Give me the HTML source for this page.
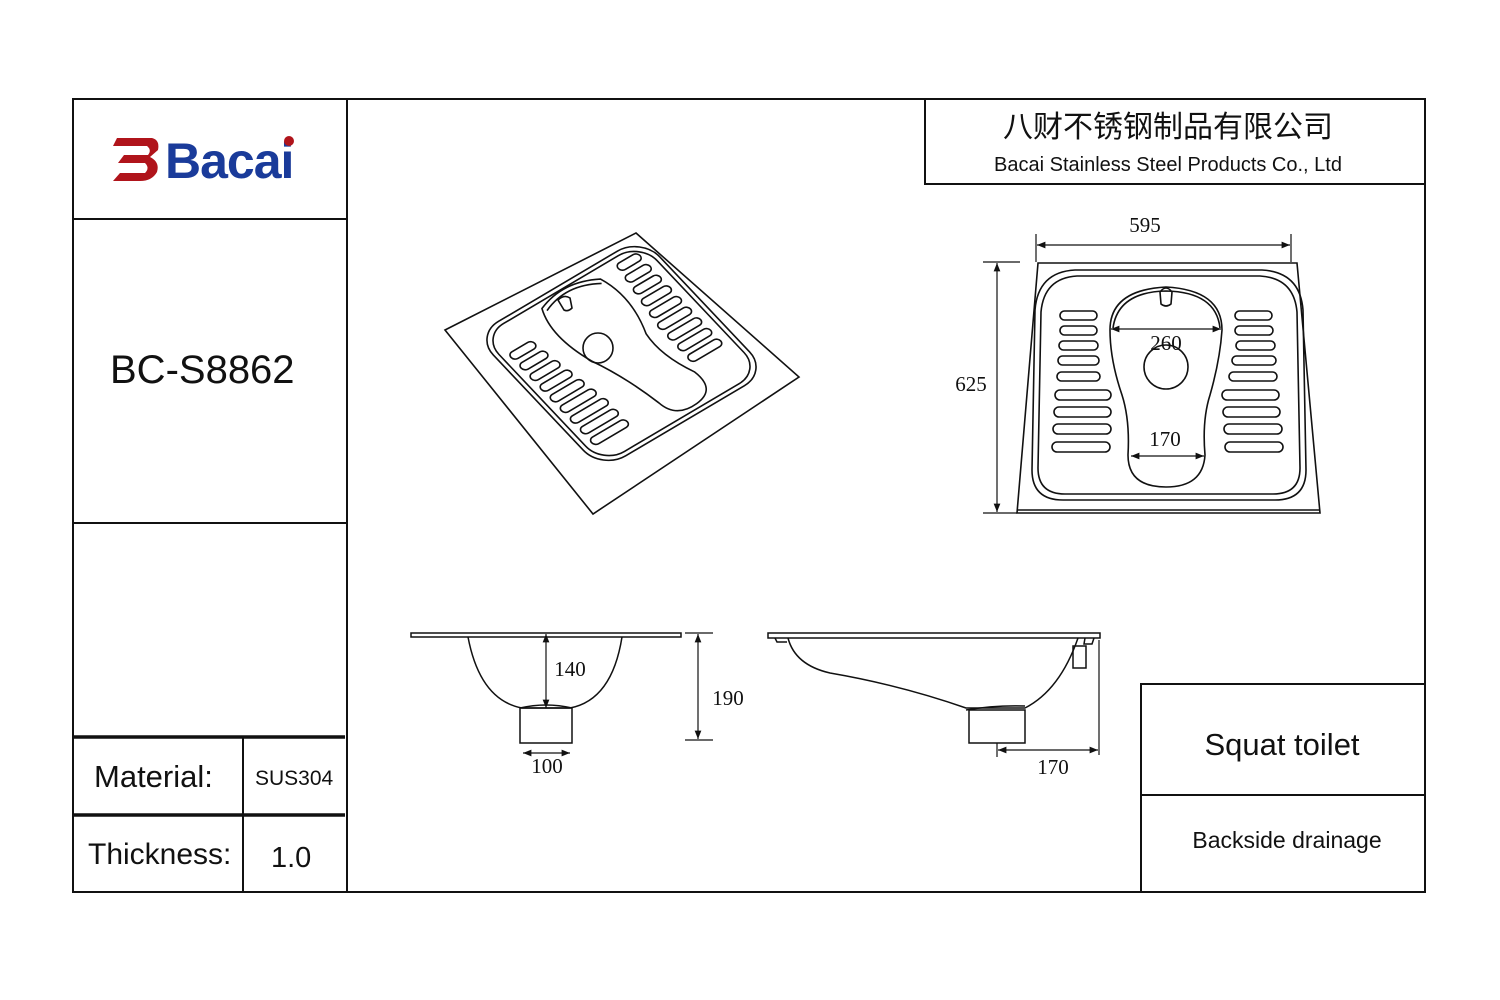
<!DOCTYPE html>
<html><head><meta charset="utf-8"><style>
html,body{margin:0;padding:0;background:#fff;}
svg{display:block;}
.s{font-family:"Liberation Sans","Noto Sans CJK SC",sans-serif;fill:#111;}
.d{font-family:"Liberation Serif",serif;fill:#111;font-size:21px;}
</style></head><body>
<svg width="1500" height="1000" viewBox="0 0 1500 1000" xmlns="http://www.w3.org/2000/svg">
<defs>
<marker id="a" viewBox="0 0 10 10" refX="10" refY="5" markerWidth="9" markerHeight="7" orient="auto-start-reverse"><path d="M0,1 L10,5 L0,9 Z" fill="#111"/></marker>
</defs>
<g fill="none" stroke="#111" stroke-width="2">
<rect x="73" y="99" width="1352" height="793"/>
<line x1="347" y1="99" x2="347" y2="892"/>
<line x1="73" y1="219" x2="347" y2="219"/>
<line x1="73" y1="523" x2="347" y2="523"/>
<line x1="73" y1="737" x2="345" y2="737" stroke-width="3.5"/>
<line x1="73" y1="815" x2="345" y2="815" stroke-width="3.5"/>
<line x1="243" y1="737" x2="243" y2="892"/>
<polyline points="925,99 925,184 1425,184"/>
<rect x="1141" y="684" width="284" height="208"/>
<line x1="1141" y1="795" x2="1425" y2="795"/>
</g>
<!-- logo -->
<g>
<path d="M117,138 L152,138 Q160,140 158,150 L150,157 Q160,162 157,172 Q152,181 140,181 L113,181 L120,173 L145,173 Q150,168 145,163 L118,163 L124,155 L148,155 Q152,150 147,146 L113,146 Z" fill="#b0141b"/>
<text x="165" y="178" font-family="Liberation Sans,sans-serif" font-weight="bold" font-size="50" fill="#1a3b9a" letter-spacing="-1">Bacai</text>
<circle cx="289" cy="141" r="5" fill="#b0141b"/>
</g>
<text x="110" y="383" class="s" font-size="40">BC-S8862</text>
<text x="94" y="787" class="s" font-size="31">Material:</text>
<text x="255" y="785" class="s" font-size="21">SUS304</text>
<text x="88" y="864" class="s" font-size="30">Thickness:</text>
<text x="271" y="867" class="s" font-size="29">1.0</text>
<text x="1168" y="137" class="s" font-size="30" text-anchor="middle">八财不锈钢制品有限公司</text>
<text x="1168" y="171" class="s" font-size="20" text-anchor="middle">Bacai Stainless Steel Products Co., Ltd</text>
<text x="1282" y="755" class="s" font-size="31" text-anchor="middle">Squat toilet</text>
<text x="1287" y="848" class="s" font-size="23" text-anchor="middle">Backside  drainage</text>

<!-- isometric view -->
<g fill="none" stroke="#111" stroke-width="1.6">
<polygon points="445,330 636,233 799,377 593,514"/>
<g transform="matrix(1.98,-1.17,1.55,1.64,445,330)">
<rect x="8" y="9" width="84" height="82" rx="12" vector-effect="non-scaling-stroke"/>
<rect x="10" y="11" width="80" height="78" rx="11" vector-effect="non-scaling-stroke"/>
<path d="M38,14 Q53,8 66,16 Q71,30 64,48 Q62,60 68,74 Q70,86 59,87 Q48,88 47,78 Q44,60 38,46 Q32,27 38,14 Z" vector-effect="non-scaling-stroke"/>
<path d="M39,16 Q53,10 65,18" vector-effect="non-scaling-stroke"/>
<rect x="13" y="24" width="12" height="4" rx="2" vector-effect="non-scaling-stroke"/>
<rect x="13" y="30.5" width="13" height="4" rx="2" vector-effect="non-scaling-stroke"/>
<rect x="13" y="37" width="14" height="4" rx="2" vector-effect="non-scaling-stroke"/>
<rect x="13" y="43.5" width="15" height="4" rx="2" vector-effect="non-scaling-stroke"/>
<rect x="13" y="50" width="16" height="4" rx="2" vector-effect="non-scaling-stroke"/>
<rect x="13" y="56.5" width="17" height="4" rx="2" vector-effect="non-scaling-stroke"/>
<rect x="13" y="63" width="18" height="4" rx="2" vector-effect="non-scaling-stroke"/>
<rect x="13" y="69.5" width="18" height="4" rx="2" vector-effect="non-scaling-stroke"/>
<rect x="13" y="76" width="18" height="4" rx="2" vector-effect="non-scaling-stroke"/>
<rect x="75" y="14" width="11" height="4" rx="2" vector-effect="non-scaling-stroke"/>
<rect x="74" y="20.5" width="12" height="4" rx="2" vector-effect="non-scaling-stroke"/>
<rect x="73" y="27" width="13" height="4" rx="2" vector-effect="non-scaling-stroke"/>
<rect x="72" y="33.5" width="14" height="4" rx="2" vector-effect="non-scaling-stroke"/>
<rect x="71" y="40" width="15" height="4" rx="2" vector-effect="non-scaling-stroke"/>
<rect x="70" y="46.5" width="16" height="4" rx="2" vector-effect="non-scaling-stroke"/>
<rect x="70" y="53" width="16" height="4" rx="2" vector-effect="non-scaling-stroke"/>
<rect x="70" y="59.5" width="16" height="4" rx="2" vector-effect="non-scaling-stroke"/>
<rect x="70" y="66" width="16" height="4" rx="2" vector-effect="non-scaling-stroke"/>
</g>
<circle cx="598" cy="348" r="15"/>
<path d="M558,300 q6,-6 12,-2 l2,10 q-4,4 -8,2 Z"/>
</g>

<!-- top view -->
<g fill="none" stroke="#111" stroke-width="1.6">
<polygon points="1038,263 1297,263 1320,513 1017,513"/>
<line x1="1017" y1="510" x2="1320" y2="510"/>
<path d="M1075,270 L1262,270 Q1300,272 1303,310 L1306,470 Q1306,500 1275,500 L1063,500 Q1032,500 1032,470 L1035,310 Q1038,272 1075,270 Z"/>
<path d="M1077,276 L1260,276 Q1294,278 1297,312 L1300,468 Q1300,494 1273,494 L1065,494 Q1038,494 1038,468 L1041,312 Q1044,278 1077,276 Z"/>
<path d="M1166,287 Q1222,290 1222,330 Q1220,360 1210,395 Q1202,420 1205,455 Q1203,487 1166,487 Q1128,487 1128,455 Q1130,420 1122,395 Q1110,360 1110,330 Q1110,290 1166,287 Z"/>
<path d="M1113,328 Q1118,292 1166,291 Q1216,292 1220,328"/>
<circle cx="1166" cy="367" r="22"/>
<path d="M1160,292 q6,-8 12,0 l-1,12 q-5,4 -10,0 Z"/>
<g>
<rect x="1060" y="311" width="37" height="9" rx="4.5"/>
<rect x="1060" y="326" width="37" height="9" rx="4.5"/>
<rect x="1059" y="341" width="39" height="9" rx="4.5"/>
<rect x="1058" y="356" width="41" height="9" rx="4.5"/>
<rect x="1057" y="372" width="43" height="9" rx="4.5"/>
<rect x="1055" y="390" width="56" height="10" rx="5"/>
<rect x="1054" y="407" width="57" height="10" rx="5"/>
<rect x="1053" y="424" width="58" height="10" rx="5"/>
<rect x="1052" y="442" width="58" height="10" rx="5"/>
<rect x="1235" y="311" width="37" height="9" rx="4.5"/>
<rect x="1235" y="326" width="38" height="9" rx="4.5"/>
<rect x="1236" y="341" width="39" height="9" rx="4.5"/>
<rect x="1232" y="356" width="44" height="9" rx="4.5"/>
<rect x="1229" y="372" width="48" height="9" rx="4.5"/>
<rect x="1222" y="390" width="57" height="10" rx="5"/>
<rect x="1223" y="407" width="57" height="10" rx="5"/>
<rect x="1224" y="424" width="58" height="10" rx="5"/>
<rect x="1225" y="442" width="58" height="10" rx="5"/>
</g>
<line x1="1036" y1="234" x2="1036" y2="262" stroke-width="1.2"/>
<line x1="1291" y1="234" x2="1291" y2="262" stroke-width="1.2"/>
<line x1="1037" y1="245" x2="1290" y2="245" stroke-width="1.2" marker-start="url(#a)" marker-end="url(#a)"/>
<line x1="983" y1="262" x2="1020" y2="262" stroke-width="1.2"/>
<line x1="983" y1="513" x2="1017" y2="513" stroke-width="1.2"/>
<line x1="997" y1="263" x2="997" y2="512" stroke-width="1.2" marker-start="url(#a)" marker-end="url(#a)"/>
<line x1="1111" y1="329" x2="1221" y2="329" stroke-width="1.2" marker-start="url(#a)" marker-end="url(#a)"/>
<line x1="1131" y1="456" x2="1204" y2="456" stroke-width="1.2" marker-start="url(#a)" marker-end="url(#a)"/>
</g>
<text x="1145" y="232" class="d" text-anchor="middle">595</text>
<text x="971" y="391" class="d" text-anchor="middle">625</text>
<text x="1166" y="350" class="d" text-anchor="middle">260</text>
<text x="1165" y="446" class="d" text-anchor="middle">170</text>

<!-- side views -->
<g fill="none" stroke="#111" stroke-width="1.5">
<rect x="411" y="633" width="270" height="4"/>
<path d="M468,637 Q480,700 522,708 L570,708 Q612,700 622,637"/>
<path d="M520,708 Q546,702 572,708"/>
<rect x="520" y="708" width="52" height="35"/>
<line x1="546" y1="634" x2="546" y2="708" stroke-width="1.2" marker-start="url(#a)" marker-end="url(#a)"/>
<line x1="685" y1="633" x2="713" y2="633" stroke-width="1.2"/>
<line x1="685" y1="740" x2="713" y2="740" stroke-width="1.2"/>
<line x1="698" y1="634" x2="698" y2="739" stroke-width="1.2" marker-start="url(#a)" marker-end="url(#a)"/>
<line x1="523" y1="753" x2="570" y2="753" stroke-width="1.2" marker-start="url(#a)" marker-end="url(#a)"/>

<rect x="768" y="633" width="332" height="5"/>
<path d="M788,638 Q795,665 830,673 Q900,685 966,708 L1025,708 Q1060,690 1078,638"/>
<path d="M966,710 Q995,705 1025,706"/>
<rect x="969" y="710" width="56" height="33"/>
<rect x="1073" y="646" width="13" height="22"/>
<path d="M775,638 l2,4 h10 M1085,638 l-1,6 h8 l2,-6"/>
<line x1="1099" y1="640" x2="1099" y2="755" stroke-width="1.2"/>
<line x1="997" y1="743" x2="997" y2="757" stroke-width="1.2"/>
<line x1="998" y1="750" x2="1098" y2="750" stroke-width="1.2" marker-start="url(#a)" marker-end="url(#a)"/>
</g>
<text x="570" y="676" class="d" text-anchor="middle">140</text>
<text x="728" y="705" class="d" text-anchor="middle">190</text>
<text x="547" y="773" class="d" text-anchor="middle">100</text>
<text x="1053" y="774" class="d" text-anchor="middle">170</text>
</svg>
</body></html>
